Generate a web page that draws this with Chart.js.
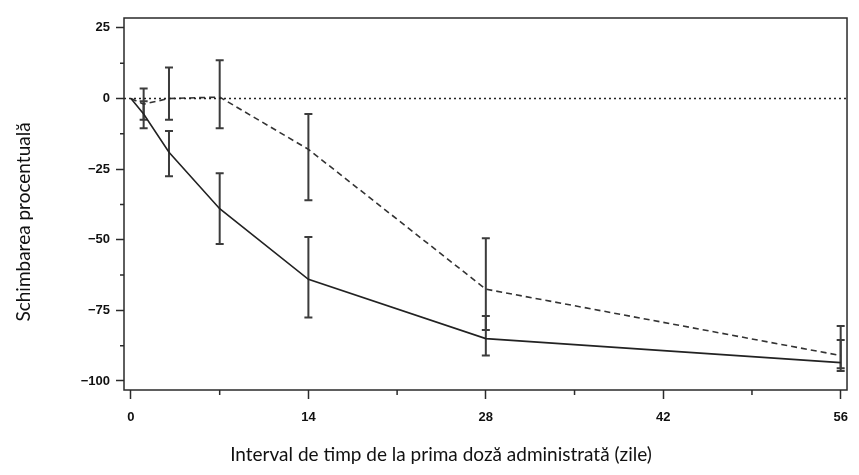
<!DOCTYPE html>
<html>
<head>
<meta charset="utf-8">
<script src="https://cdn.jsdelivr.net/npm/chart.js@4.4.1/dist/chart.umd.min.js"></script>
<style>
  html, body { margin: 0; padding: 0; background: #fff; }
</style>
</head>
<body>
<canvas id="mycanvas" width="859" height="475"></canvas>
<script>
// days since first dose
var days = [0, 1, 3, 7, 14, 28, 56]

// solid line series (mean, upper and lower end of error bar)
var solidMean = [0, -5.5, -19, -39, -64, -85, -93.5]
var solidHigh = [null, -1, -11.5, -26.5, -49, -77, -85.5]
var solidLow  = [null, -10.5, -27.5, -51.5, -77.5, -91, -95.5]

// dashed line series
var dashedMean = [0, -2, 0, 0.5, -18, -67.5, -91]
var dashedHigh = [null, 3.5, 11, 13.5, -5.5, -49.5, -80.5]
var dashedLow  = [null, -7.5, -7.5, -10.5, -36, -82, -96.5]

var xTicks = [0, 14, 28, 42, 56]
var xMinorTicks = [7, 21, 35, 49]
var yTicks = [-100, -75, -50, -25, 0, 25]
var yTickLabels = ['\u2212100', '\u221275', '\u221250', '\u221225', '0', '25']
var yMinorTicks = [-87.5, -62.5, -37.5, -12.5, 12.5]

var xTitle = 'Interval de timp de la prima doză administrată (zile)'
var yTitle = 'Schimbarea procentuală'

var xMin = -0.55, xMax = 56.5
var yMin = -103.2, yMax = 28.5

function points(ys) {
    return days.map(function (d, i) { return {x: d, y: ys[i]} })
}

var tickFont = {family: 'Liberation Sans', size: 13, weight: 'bold'}

var decorations = {
    id: 'decorations',
    beforeDatasetsDraw: function (chart) {
        var ctx = chart.ctx
        var xs = chart.scales.x, ys = chart.scales.y
        var bars = [[solidHigh, solidLow], [dashedHigh, dashedLow]]
        ctx.save()
        ctx.strokeStyle = '#3c3c3c'
        ctx.lineWidth = 2
        bars.forEach(function (b) {
            days.forEach(function (d, i) {
                if (b[0][i] === null) return
                var px = xs.getPixelForValue(d)
                var y1 = ys.getPixelForValue(b[0][i])
                var y2 = ys.getPixelForValue(b[1][i])
                ctx.beginPath()
                ctx.moveTo(px, y1); ctx.lineTo(px, y2)
                ctx.moveTo(px - 4, y1); ctx.lineTo(px + 4, y1)
                ctx.moveTo(px - 4, y2); ctx.lineTo(px + 4, y2)
                ctx.stroke()
            })
        })
        ctx.restore()
    },
    afterDraw: function (chart) {
        var ctx = chart.ctx
        var a = chart.chartArea
        var xs = chart.scales.x, ys = chart.scales.y
        ctx.save()
        // frame
        ctx.strokeStyle = '#2a2a2a'
        ctx.lineWidth = 1.5
        ctx.strokeRect(a.left, a.top, a.right - a.left, a.bottom - a.top)
        // minor ticks
        ctx.beginPath()
        xMinorTicks.forEach(function (v) {
            var px = xs.getPixelForValue(v)
            ctx.moveTo(px, a.bottom); ctx.lineTo(px, a.bottom + 5)
        })
        yMinorTicks.forEach(function (v) {
            var py = ys.getPixelForValue(v)
            ctx.moveTo(a.left, py); ctx.lineTo(a.left - 4, py)
        })
        ctx.stroke()
        // axis titles
        ctx.fillStyle = '#111'
        ctx.font = '19px Lato'
        ctx.textAlign = 'center'
        ctx.textBaseline = 'middle'
        ctx.fillText(xTitle, 441, 455)
        ctx.translate(24, 222)
        ctx.rotate(-Math.PI / 2)
        ctx.fillText(yTitle, 0, 0)
        ctx.restore()
    }
}

var context = document.getElementById('mycanvas').getContext('2d')

var chart = new Chart(context, {
    type: 'line',
    data: {
        datasets: [{
            label: 'zero',
            data: [{x: xMin, y: 0}, {x: xMax, y: 0}],
            borderColor: '#222',
            borderWidth: 1.5,
            borderDash: [2, 3],
            pointRadius: 0
        }, {
            label: 'solid',
            data: points(solidMean),
            borderColor: '#222',
            borderWidth: 1.6,
            pointRadius: 0,
            tension: 0
        }, {
            label: 'dashed',
            data: points(dashedMean),
            borderColor: '#333',
            borderWidth: 1.6,
            borderDash: [6, 4],
            pointRadius: 0,
            tension: 0
        }]
    },
    options: {
        responsive: false,
        animation: false,
        devicePixelRatio: 1,
        layout: {padding: {left: 0, right: 10, top: 18, bottom: 0}},
        plugins: {legend: {display: false}, tooltip: {enabled: false}},
        scales: {
            x: {
                type: 'linear',
                min: xMin,
                max: xMax,
                afterBuildTicks: function (s) { s.ticks = xTicks.map(function (v) { return {value: v} }) },
                afterFit: function (s) { s.height = 85 },
                border: {display: false},
                grid: {drawOnChartArea: false, tickLength: 9, tickColor: '#2a2a2a', tickWidth: 1.5},
                ticks: {padding: 11, color: '#111', font: tickFont, maxRotation: 0}
            },
            y: {
                type: 'linear',
                min: yMin,
                max: yMax,
                afterBuildTicks: function (s) { s.ticks = yTicks.map(function (v) { return {value: v} }) },
                afterFit: function (s) { s.width = 124 },
                border: {display: false},
                grid: {drawOnChartArea: false, tickLength: 8, tickColor: '#2a2a2a', tickWidth: 1.5},
                ticks: {
                    padding: 6,
                    color: '#111',
                    font: tickFont,
                    callback: function (v) { return yTickLabels[yTicks.indexOf(v)] }
                }
            }
        }
    },
    plugins: [decorations]
})
</script>
</body>
</html>
